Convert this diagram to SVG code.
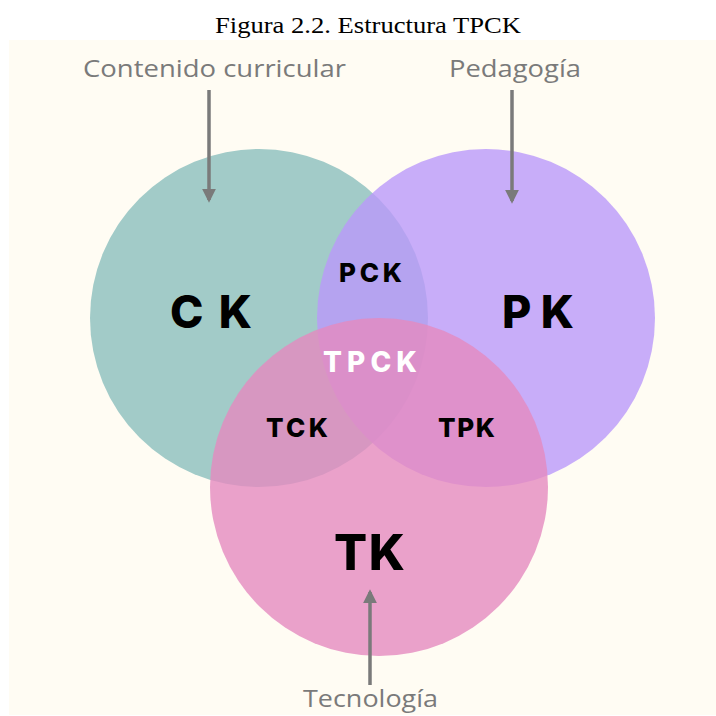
<svg xmlns="http://www.w3.org/2000/svg" width="716" height="716" viewBox="0 0 716 716">
  <defs>
    <style>
      .title { font-family: "Liberation Serif", "Times New Roman", serif; font-size: 23px; fill: #000; }
      .lbl { font-family: "Open Sans", "Noto Sans", sans-serif; font-size: 24px; fill: #7a7a7a; }
      .big { font-family: Inter, "Open Sans", sans-serif; font-weight: 800; fill: #000; }
      .arr { stroke: #7a7a7a; stroke-width: 3.5; fill: none; }
    </style>
    <marker id="ah" viewBox="0 0 10 10" refX="8" refY="5" markerWidth="4" markerHeight="4" orient="auto" markerUnits="strokeWidth">
      <path d="M0,0 L10,5 L0,10 Z" fill="#7a7a7a"/>
    </marker>
  </defs>
  <rect width="716" height="716" fill="#ffffff"/>
  <text class="title" x="215" y="33" textLength="306" lengthAdjust="spacingAndGlyphs">Figura 2.2. Estructura TPCK</text>
  <rect x="9" y="40" width="707" height="675" fill="#fffcf3"/>

  <g id="CK">
    <circle cx="259" cy="318" r="169" fill="#a2cbc8"/>
    <text class="big" x="170" y="328" font-size="45" textLength="82" lengthAdjust="spacing">CK</text>
  </g>
  <g id="PK">
    <circle cx="486" cy="318" r="169" fill="#ba99fa" fill-opacity="0.8"/>
    <text class="big" x="502" y="328" font-size="45" textLength="72" lengthAdjust="spacing">PK</text>
  </g>
  <g id="TK">
    <circle cx="379" cy="487" r="169" fill="#e58abf" fill-opacity="0.8"/>
    <text class="big" x="334" y="570" font-size="49" textLength="71" lengthAdjust="spacing">TK</text>
  </g>
  <g id="PCK">
    <text class="big" x="339" y="282" font-size="26" textLength="63" lengthAdjust="spacing">PCK</text>
  </g>
  <g id="TPCK">
    <text class="big" x="323" y="372" font-size="28" textLength="94" lengthAdjust="spacing" style="fill:#ffffff">TPCK</text>
  </g>
  <g id="TCK">
    <text class="big" x="266" y="437" font-size="26" textLength="62" lengthAdjust="spacing">TCK</text>
  </g>
  <g id="TPK">
    <text class="big" x="438" y="437" font-size="26" textLength="57" lengthAdjust="spacing">TPK</text>
  </g>

  <g id="label-contenido">
    <text class="lbl" x="83" y="77" textLength="263" lengthAdjust="spacingAndGlyphs">Contenido curricular</text>
  </g>
  <g id="label-pedagogia">
    <text class="lbl" x="449" y="77" textLength="132" lengthAdjust="spacingAndGlyphs">Pedagogía</text>
  </g>
  <g id="label-tecnologia">
    <text class="lbl" x="303" y="707" textLength="135" lengthAdjust="spacingAndGlyphs">Tecnología</text>
  </g>

  <g id="connectors">
    <line class="arr" x1="209" y1="90" x2="209" y2="200" marker-end="url(#ah)"/>
    <line class="arr" x1="512" y1="90" x2="512" y2="201" marker-end="url(#ah)"/>
    <line class="arr" x1="370" y1="685" x2="370" y2="592" marker-end="url(#ah)"/>
  </g>
</svg>
